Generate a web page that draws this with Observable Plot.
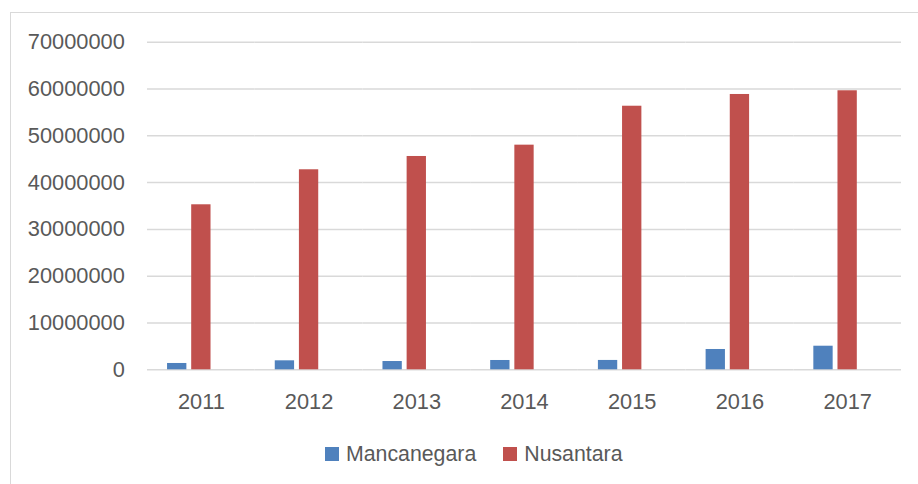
<!DOCTYPE html>
<html><head><meta charset="utf-8">
<script src="https://cdn.jsdelivr.net/npm/d3@7"></script>
<script src="https://cdn.jsdelivr.net/npm/@observablehq/plot@0.6"></script>
<style>
body{margin:0;background:#fff;font-family:"Liberation Sans",Arial,sans-serif;}
#wrap{position:relative;width:918px;height:484px;overflow:hidden;background:#fff;}
#frame{position:absolute;left:10px;top:12px;width:940px;height:500px;border-top:1px solid #d9d9d9;border-left:1px solid #d9d9d9;}
#chart{position:absolute;left:0;top:0;}
#legend{position:absolute;left:325px;top:443px;display:flex;align-items:center;font-size:21.3px;color:#595959;line-height:22px;}
.sw{width:14px;height:14px;display:inline-block;margin-right:7px;}
.item{display:flex;align-items:center;margin-right:27px;}
</style>
</head><body>
<div id="wrap"><div id="frame"></div><div id="chart"></div><div id="legend"></div></div>
<script>
const years = ["2011","2012","2013","2014","2015","2016","2017"];
const seriesNames = ["Mancanegara","Nusantara"];
const mancanegara = [1350000, 1920000, 1770000, 1990000, 2000000, 4340000, 5040000];
const nusantara = [35260000, 42740000, 45580000, 48000000, 56320000, 58830000, 59620000];
const colors = ["#4F81BD","#C0504D"];
const yTicks = [0,10000000,20000000,30000000,40000000,50000000,60000000,70000000];

const rows = [];
years.forEach((y,i)=>{
  rows.push({year:y, series:"Mancanegara", value:mancanegara[i]});
  rows.push({year:y, series:"Nusantara", value:nusantara[i]});
});

const chart = Plot.plot({
  width: 918,
  height: 430,
  marginLeft: 147,
  marginRight: 17,
  marginTop: 41.7,
  marginBottom: 60.7,
  style: {fontSize:"21.8px", fontFamily:'"Liberation Sans", Arial, sans-serif', color:"#595959", background:"transparent"},
  fx: {domain: years, padding: 0, round: false, label: null, tickSize: 0, tickPadding: 23.5, axis: "bottom"},
  x: {domain: ["Mancanegara","Nusantara","_"], paddingInner: 0.2, paddingOuter: 0.83, round: false, axis: null},
  y: {domain: [0, 70000000], ticks: yTicks, tickFormat: d => String(d), tickSize: 0, tickPadding: 22.7, label: null},
  color: {domain: seriesNames, range: colors},
  marks: [
    Plot.gridY(yTicks, {stroke:"#d9d9d9", strokeOpacity:1, strokeWidth:1.5}),
    Plot.barY(rows, {fx:"year", x:"series", y:"value", fill:"series"})
  ]
});
document.getElementById("chart").appendChild(chart);

const lg = document.getElementById("legend");
seriesNames.forEach((s,i)=>{
  const it = document.createElement("div");
  it.className = "item";
  it.innerHTML = `<span class="sw" style="background:${colors[i]}"></span><span>${s}</span>`;
  lg.appendChild(it);
});
</script>
</body></html>
